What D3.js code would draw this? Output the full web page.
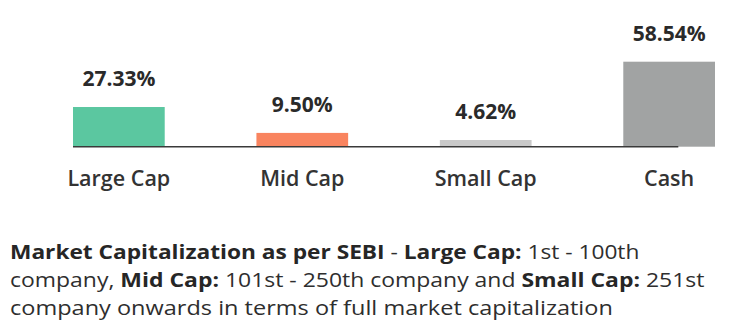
<!DOCTYPE html>
<html>
<head>
<meta charset="utf-8">
<script src="https://cdn.jsdelivr.net/npm/d3@7"></script>
<style>
  html, body { margin: 0; padding: 0; background: #ffffff; }
  svg { display: block; }
</style>
</head>
<body>
<svg id="chart" width="734" height="333"></svg>
<script>
const categories = ["Large Cap", "Mid Cap", "Small Cap", "Cash"];
const values = [27.33, 9.50, 4.62, 58.54];
const valueLabels = ["27.33%", "9.50%", "4.62%", "58.54%"];
const colors = ["#5bc7a0", "#f9845f", "#c9c9c9", "#a1a3a3"];

const footnoteLines = [
  [["Market Capitalization as per SEBI", true], [" - ", false], ["Large Cap:", true], [" 1st - 100th", false]],
  [["company, ", false], ["Mid Cap:", true], [" 101st - 250th company and ", false], ["Small Cap:", true], [" 251st", false]],
  [["company onwards in terms of full market capitalization", false]]
];
const footnoteWidths = [630, 695, 603];

const svg = d3.select("#chart");
const FONT = "'Open Sans', 'Noto Sans', sans-serif";

const x = d3.scaleBand().domain(categories).range([73, 715]).paddingInner(0.5).paddingOuter(0);
const y = d3.scaleLinear().domain([0, 100]).range([146.7, 1.5]);

const data = categories.map((c, i) => ({ c, v: values[i], label: valueLabels[i], color: colors[i] }));

svg.append("g").selectAll("rect").data(data).join("rect")
  .attr("x", d => x(d.c))
  .attr("y", d => y(d.v))
  .attr("width", x.bandwidth())
  .attr("height", d => y(0) - y(d.v))
  .attr("fill", d => d.color);

// baseline axis line
svg.append("line")
  .attr("x1", x.range()[0])
  .attr("x2", x("Cash") + x.bandwidth() * 0.6)
  .attr("y1", y(0))
  .attr("y2", y(0))
  .attr("stroke", "#3a3a3a")
  .attr("stroke-width", 1.5);

svg.append("g").selectAll("text").data(data).join("text")
  .attr("x", d => x(d.c) + x.bandwidth() / 2)
  .attr("y", d => y(d.v) - 21)
  .attr("text-anchor", "middle")
  .attr("font-family", FONT)
  .attr("font-weight", 700)
  .attr("font-size", 21)
  .attr("fill", "#2a2a2a")
  .text(d => d.label);

svg.append("g").selectAll("text").data(data).join("text")
  .attr("x", d => x(d.c) + x.bandwidth() / 2)
  .attr("y", 185.5)
  .attr("text-anchor", "middle")
  .attr("font-family", FONT)
  .attr("font-weight", 600)
  .attr("font-size", 21.5)
  .attr("fill", "#333333")
  .text(d => d.c);

const fn = svg.append("g");
const baselines = [259, 287, 315];
footnoteLines.forEach((parts, i) => {
  const t = fn.append("text")
    .attr("x", 0)
    .attr("y", 0)
    .attr("font-family", FONT)
    .attr("font-size", 20)
    .attr("fill", "#2e2e2e");
  parts.forEach(([s, b]) => {
    t.append("tspan")
      .attr("font-weight", b ? 700 : 400)
      .attr("fill", b ? "#262626" : "#2e2e2e")
      .style("white-space", "pre")
      .text(s);
  });
  t.attr("xml:space", "preserve");
  const w = t.node().getComputedTextLength();
  const sx = footnoteWidths[i] / w;
  t.attr("transform", `translate(10,${baselines[i]}) scale(${sx},1)`);
});
</script>
</body>
</html>
